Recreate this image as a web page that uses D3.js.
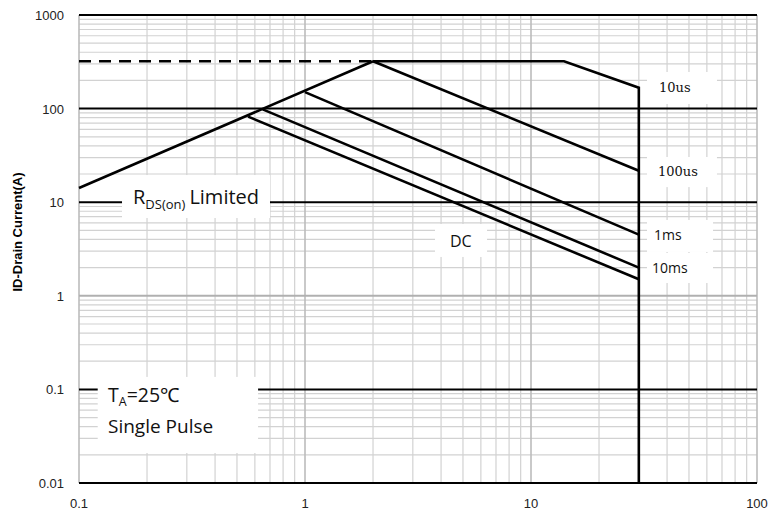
<!DOCTYPE html>
<html lang="en">
<head>
    <meta charset="UTF-8">
    <title>Safe Operating Area</title>
    <style>
        body {
            margin: 0;
            padding: 0;
            background-color: #ffffff;
            overflow: hidden;
        }
        .tick-label {
            font-family: Arial, "Liberation Sans", sans-serif;
            font-size: 13px;
            fill: #222;
        }
        .curve {
            fill: none;
            stroke: #000;
            stroke-width: 2.6px;
            stroke-linejoin: miter;
        }
        .note {
            font-family: "Open Sans", sans-serif;
            fill: #111;
        }
    </style>
</head>
<body>
    <div id="chart"></div>

    <script src="https://d3js.org/d3.v7.min.js"></script>
    <script>
        // Axis ticks
        const xTicks = [0.1, 1, 10, 100];
        const yTicks = [0.01, 0.1, 1, 10, 100, 1000];

        // SOA boundary segments, [VDS, ID]
        const rdsLimit = [[0.1, 14.2], [2, 320]];
        const currentLimit = [[0.1, 320], [2, 320]];
        const pulse10us = [[2, 320], [14, 320], [30, 167], [30, 0.01]];
        const pulse100us = [[2, 320], [30, 21.7]];
        const pulse1ms = [[1, 150], [30, 4.5]];
        const pulse10ms = [[0.65, 98], [30, 2.0]];
        const dcLine = [[0.56, 82], [30, 1.5]];

        const width = 773;
        const height = 515;
        const margin = { left: 79, right: 16, top: 15, bottom: 32 };

        const svg = d3.select("#chart")
            .append("svg")
            .attr("width", width)
            .attr("height", height);

        const x = d3.scaleLog()
            .domain([0.1, 100])
            .range([margin.left, width - margin.right]);

        const y = d3.scaleLog()
            .domain([0.01, 1000])
            .range([height - margin.bottom, margin.top]);

        // minor values 2..9 per decade
        function minors(domain) {
            const out = [];
            for (let p = Math.log10(domain[0]); p < Math.log10(domain[1]); p++) {
                for (let k = 2; k <= 9; k++) out.push(k * Math.pow(10, p));
            }
            return out;
        }

        const grid = svg.append("g");

        // minor vertical grid
        grid.selectAll(".vminor")
            .data(minors(x.domain()))
            .enter()
            .append("line")
            .attr("x1", d => x(d)).attr("x2", d => x(d))
            .attr("y1", y(1000)).attr("y2", y(0.01))
            .attr("stroke", "#d2d2d2")
            .attr("stroke-width", 1.2);

        // minor horizontal grid
        grid.selectAll(".hminor")
            .data(minors(y.domain()))
            .enter()
            .append("line")
            .attr("x1", x(0.1)).attr("x2", x(100))
            .attr("y1", d => y(d)).attr("y2", d => y(d))
            .attr("stroke", "#d2d2d2")
            .attr("stroke-width", 1.2);

        // major vertical grid + frame sides
        grid.selectAll(".vmajor")
            .data(xTicks)
            .enter()
            .append("line")
            .attr("x1", d => x(d)).attr("x2", d => x(d))
            .attr("y1", y(1000)).attr("y2", y(0.01))
            .attr("stroke", "#bcbcbc")
            .attr("stroke-width", 1.6);

        // major horizontal grid (the 1 A line is grey in the original)
        grid.selectAll(".hmajor")
            .data(yTicks)
            .enter()
            .append("line")
            .attr("x1", x(0.1)).attr("x2", x(100))
            .attr("y1", d => y(d)).attr("y2", d => y(d))
            .attr("stroke", d => d === 1 ? "#b0b0b0" : "#000")
            .attr("stroke-width", 2);

        // white boxes behind annotations (they hide the grid), corners in data units
        const boxes = [
            { x0: 0.121, x1: 0.62, top: 0.136, bottom: 0.0209 },  // TA / single pulse
            { x0: 0.155, x1: 0.70, top: 19.5, bottom: 6.78 },      // RDS(on) limited
            { x0: 3.76, x1: 6.39, top: 5.85, bottom: 2.6 },        // DC
            { x0: 32.6, x1: 66.5, top: 246, bottom: 112 },         // 10us
            { x0: 32.6, x1: 66.5, top: 30.4, bottom: 14.5 },       // 100us
            { x0: 32.6, x1: 63.9, top: 6.46, bottom: 2.94 },       // 1ms
            { x0: 32.6, x1: 63.9, top: 2.87, bottom: 1.37 }        // 10ms
        ];
        svg.append("g")
            .selectAll("rect")
            .data(boxes)
            .enter()
            .append("rect")
            .attr("x", d => x(d.x0))
            .attr("y", d => y(d.top))
            .attr("width", d => x(d.x1) - x(d.x0))
            .attr("height", d => y(d.bottom) - y(d.top))
            .attr("fill", "#fff");

        const line = d3.line()
            .x(d => x(d[0]))
            .y(d => y(d[1]));

        const curves = svg.append("g");
        [rdsLimit, pulse10us, pulse100us, pulse1ms, pulse10ms, dcLine].forEach(s => {
            curves.append("path")
                .datum(s)
                .attr("class", "curve")
                .attr("d", line);
        });

        curves.append("path")
            .datum(currentLimit)
            .attr("class", "curve")
            .attr("stroke-width", 3)
            .attr("stroke-dasharray", "12,8")
            .attr("d", line);

        // tick labels
        svg.append("g")
            .selectAll("text")
            .data(yTicks)
            .enter()
            .append("text")
            .attr("class", "tick-label")
            .attr("x", 64)
            .attr("y", d => y(d) + 5)
            .attr("text-anchor", "end")
            .text(d => d3.format("~g")(d));

        svg.append("g")
            .selectAll("text")
            .data(xTicks)
            .enter()
            .append("text")
            .attr("class", "tick-label")
            .attr("x", d => x(d))
            .attr("y", 508)
            .attr("text-anchor", "middle")
            .text(d => d3.format("~g")(d));

        // y axis title
        svg.append("text")
            .attr("transform", "translate(22,232) rotate(-90)")
            .attr("text-anchor", "middle")
            .style("font-family", "Arial, 'Liberation Sans', sans-serif")
            .style("font-size", "13px")
            .style("font-weight", "bold")
            .text("ID-Drain Current(A)");

        // annotations
        const rds = svg.append("text")
            .attr("class", "note")
            .attr("x", 133)
            .attr("y", 204)
            .style("font-size", "20px");
        rds.append("tspan").text("R");
        rds.append("tspan").attr("dy", 5).style("font-size", "13px").text("DS(on)");
        rds.append("tspan").attr("dy", -5).attr("dx", 4).text("Limited");

        const ta = svg.append("text")
            .attr("class", "note")
            .attr("x", 108)
            .attr("y", 402)
            .style("font-size", "19.5px");
        ta.append("tspan").text("T");
        ta.append("tspan").attr("dy", 4).style("font-size", "12.5px").text("A");
        ta.append("tspan").attr("dy", -4).text("=25℃");

        svg.append("text")
            .attr("class", "note")
            .attr("x", 108)
            .attr("y", 433)
            .style("font-size", "19px")
            .text("Single Pulse");

        svg.append("text")
            .attr("class", "note")
            .attr("x", 450)
            .attr("y", 247)
            .style("font-size", "16px")
            .text("DC");

        const pulseLabels = [
            { text: "10us", x: 659, y: 92, serif: true },
            { text: "100us", x: 658, y: 176, serif: true },
            { text: "1ms", x: 654, y: 240, serif: false },
            { text: "10ms", x: 652, y: 273, serif: false }
        ];
        svg.append("g")
            .selectAll("text")
            .data(pulseLabels)
            .enter()
            .append("text")
            .attr("x", d => d.x)
            .attr("y", d => d.y)
            .style("font-family", d => d.serif ? "'DejaVu Serif', serif" : "'Open Sans', sans-serif")
            .style("font-size", d => d.serif ? "13px" : "14px")
            .attr("fill", "#111")
            .text(d => d.text);
    </script>
</body>
</html>
